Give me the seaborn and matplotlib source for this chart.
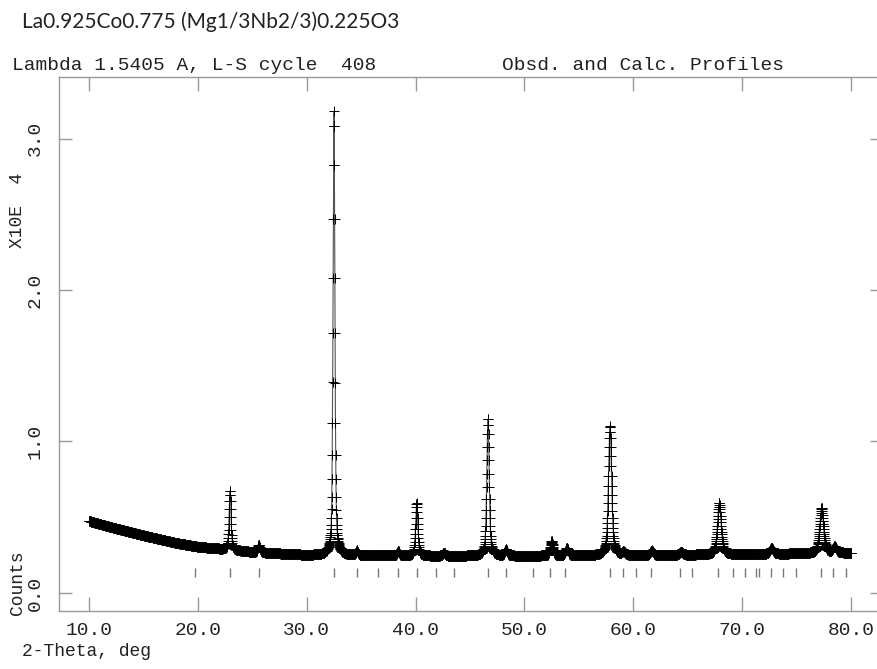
import numpy as np
import pandas as pd
import matplotlib
matplotlib.use("Agg")
import matplotlib.pyplot as plt
import seaborn as sns

# Background control points (2-theta, counts x 1e4)
bkg_tth = [10.0, 12.0, 15.0, 18.0, 20.0, 25.0, 30.0, 40.0, 50.0, 60.0, 70.0, 80.0]
bkg_cnt = [0.475, 0.435, 0.38, 0.33, 0.305, 0.27, 0.25, 0.245, 0.245, 0.248, 0.255, 0.265]

# Fitted peaks: position (deg), height above background (x 1e4), FWHM (deg)
peak_pos = [22.95, 25.60, 32.50, 34.60, 38.40, 40.10, 42.60, 46.65, 48.30,
            52.50, 53.90, 57.86, 59.10, 61.70, 64.40, 67.90, 72.70, 77.30, 78.50]
peak_hgt = [0.39, 0.05, 2.93, 0.03, 0.03, 0.35, 0.02, 0.905, 0.04,
            0.095, 0.05, 0.855, 0.02, 0.03, 0.02, 0.34, 0.04, 0.30, 0.04]
peak_fwhm = [0.20, 0.24, 0.20, 0.24, 0.24, 0.24, 0.26, 0.26, 0.28,
             0.30, 0.30, 0.34, 0.32, 0.32, 0.34, 0.40, 0.36, 0.42, 0.38]

# Bragg reflection positions (deg)
refl_pos = [19.74, 22.95, 25.62, 32.51, 34.62, 36.55, 38.39, 40.13, 41.88,
            43.53, 46.65, 48.31, 50.79, 52.35, 53.73, 57.86, 59.05, 60.25,
            61.63, 64.29, 65.39, 67.78, 69.16, 70.26, 71.30, 71.55, 72.65,
            73.75, 74.95, 77.24, 78.35, 79.54]

x_ticks = [10, 20, 30, 40, 50, 60, 70, 80]
y_ticks = [0, 1, 2, 3]

# Profile on the measurement grid (0.02 deg steps)
tth = np.round(np.arange(10.0, 80.0001, 0.02), 4)
calc = np.interp(tth, bkg_tth, bkg_cnt)
for p, h, w in zip(peak_pos, peak_hgt, peak_fwhm):
    d2 = 4.0 * (tth - p) ** 2 / w ** 2
    calc = calc + h * (0.5 * np.exp(-np.log(2) * d2) + 0.5 / (1.0 + d2))
df = pd.DataFrame({"tth": tth, "obs": calc, "calc": calc})

sns.set_theme(style="white")
mono = "Liberation Mono"
plt.rcParams["font.family"] = [mono, "DejaVu Sans"]

fig = plt.figure(figsize=(8.78, 6.69), dpi=100)
ax = fig.add_axes([59 / 878, 58 / 669, 823 / 878, 534 / 669])

sns.scatterplot(data=df, x="tth", y="obs", marker="+", s=60, color="black",
                linewidth=0.7, ax=ax, legend=False, zorder=3)
sns.lineplot(data=df, x="tth", y="calc", color="#555555", linewidth=0.8,
             ax=ax, legend=False, zorder=2)
ax.vlines(refl_pos, 0.106, 0.165, colors="#777777", linewidth=1.0, zorder=2)

ax.set_xlim(7.24, 82.85)
ax.set_ylim(-0.119, 3.406)
ax.set_xticks(x_ticks)
ax.set_xticklabels([f"{v:.1f}" for v in x_ticks])
ax.set_yticks(y_ticks)
ax.set_yticklabels([f"{v:.1f}" for v in y_ticks], rotation=90, va="center")
ax.set_xlabel("")
ax.set_ylabel("")

for side in ["left", "bottom", "top"]:
    ax.spines[side].set_visible(True)
    ax.spines[side].set_color("#999999")
    ax.spines[side].set_linewidth(1.0)
ax.spines["right"].set_visible(False)

ax.tick_params(axis="x", which="both", direction="in", length=10, width=1.0,
               color="#999999", top=True, bottom=True, labelsize=14,
               labelcolor="#222222", pad=8)
ax.tick_params(axis="y", which="both", direction="in", length=9, width=1.0,
               color="#999999", left=True, right=True, labelsize=14,
               labelcolor="#222222", pad=11)

fig.text(22 / 878, 1 - 22 / 669, "La0.925Co0.775 (Mg1/3Nb2/3)0.225O3",
         family=["Lato", "DejaVu Sans"], fontsize=15, color="#222222",
         ha="left", va="center")
fig.text(12 / 878, 1 - 65 / 669, "Lambda 1.5405 A, L-S cycle  408",
         family=[mono], fontsize=14, color="#222222", ha="left", va="center")
fig.text(502 / 878, 1 - 65 / 669, "Obsd. and Calc. Profiles",
         family=[mono], fontsize=14, color="#222222", ha="left", va="center")
fig.text(18 / 878, 1 - 210 / 669, "X10E  4", family=[mono], fontsize=13,
         color="#222222", rotation=90, ha="center", va="center")
fig.text(18 / 878, 1 - 583 / 669, "Counts", family=[mono], fontsize=13,
         color="#222222", rotation=90, ha="center", va="center")
fig.text(22 / 878, 1 - 652 / 669, "2-Theta, deg", family=[mono], fontsize=13,
         color="#222222", ha="left", va="center")

fig.savefig("out.png", dpi=100)
